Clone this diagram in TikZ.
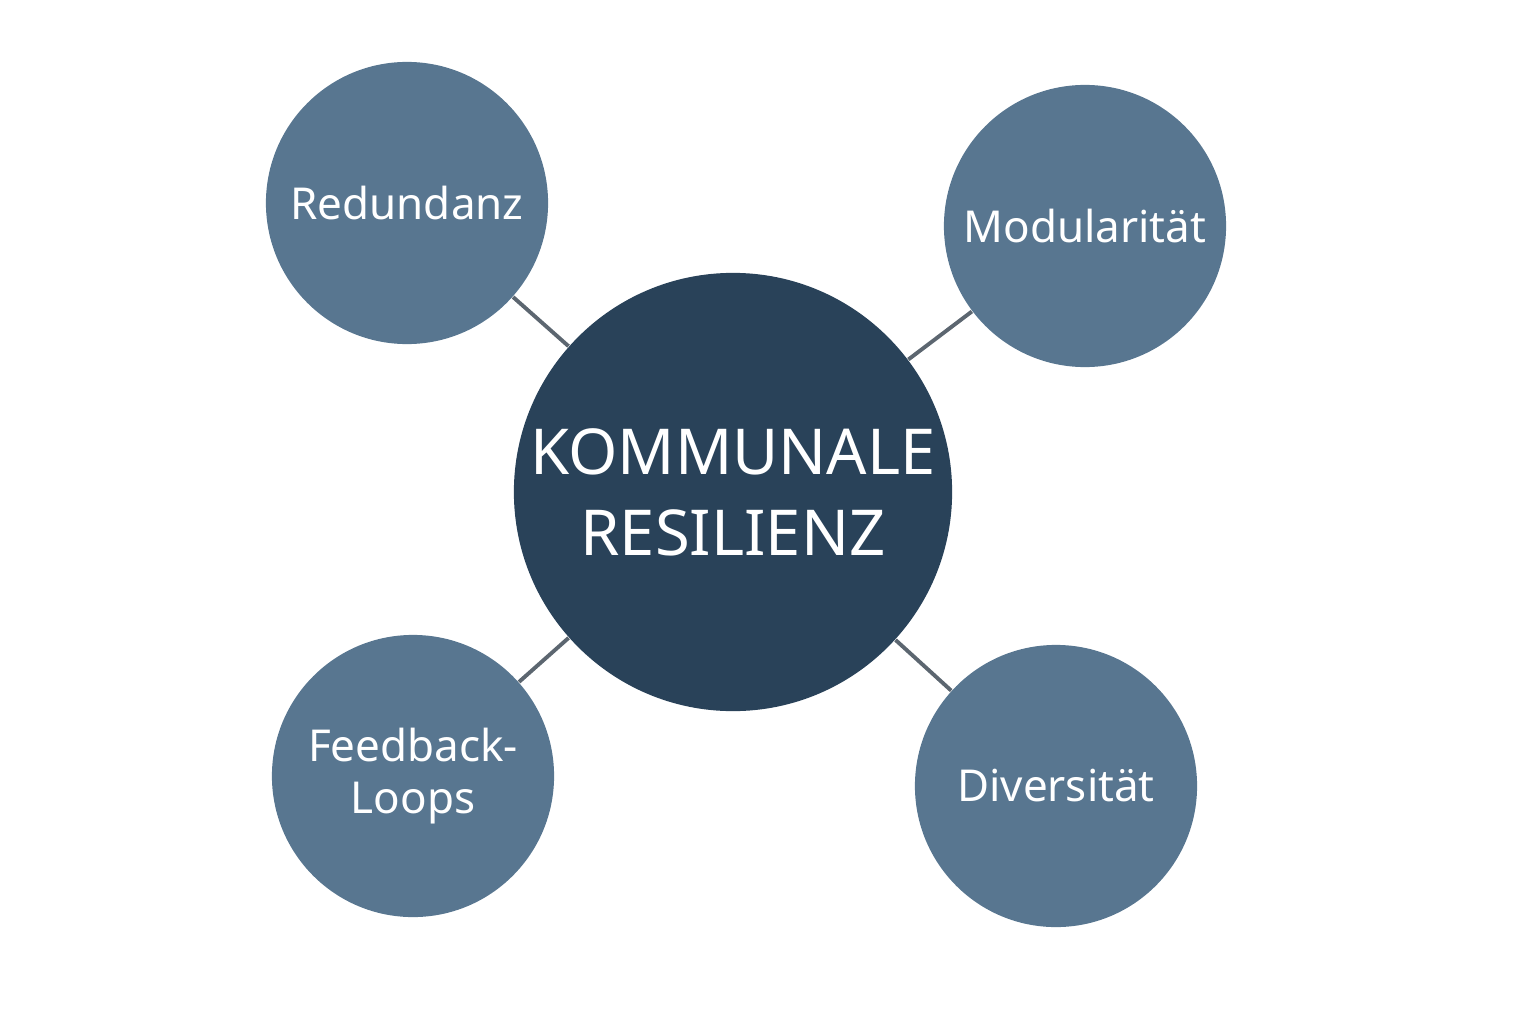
\documentclass[tikz,border=0pt]{standalone}
\usepackage{fontspec}
\setmainfont{Noto Sans}
\definecolor{dark}{HTML}{294259}
\definecolor{sat}{HTML}{587690}
\definecolor{ln}{HTML}{5C6670}
\begin{document}
\begin{tikzpicture}[x=0.01cm,y=-0.01cm,
  satc/.style={circle,fill=sat,minimum size=2.82cm,inner sep=0,text=white,font=\fontsize{12.5}{15}\selectfont\bfseries,align=center},
  conn/.style={draw=ln,line width=1.1pt}]
\useasboundingbox (0,0) rectangle (1536,1024);
\node[circle,fill=dark,minimum size=4.38cm,inner sep=0,text=white,font=\fontsize{18}{23}\selectfont\bfseries,align=center] (c) at (733,492) {KOMMUNALE\\RESILIENZ};
\node[satc] (r) at (407,203) {Redundanz};
\node[satc] (m) at (1085,226) {Modularität};
\node[satc] (f) at (413,776) {Feedback-\\Loops};
\node[satc] (d) at (1056,786) {Diversität};
\foreach \n in {r,m,f,d} \draw[conn] (c) -- (\n);
\end{tikzpicture}
\end{document}
